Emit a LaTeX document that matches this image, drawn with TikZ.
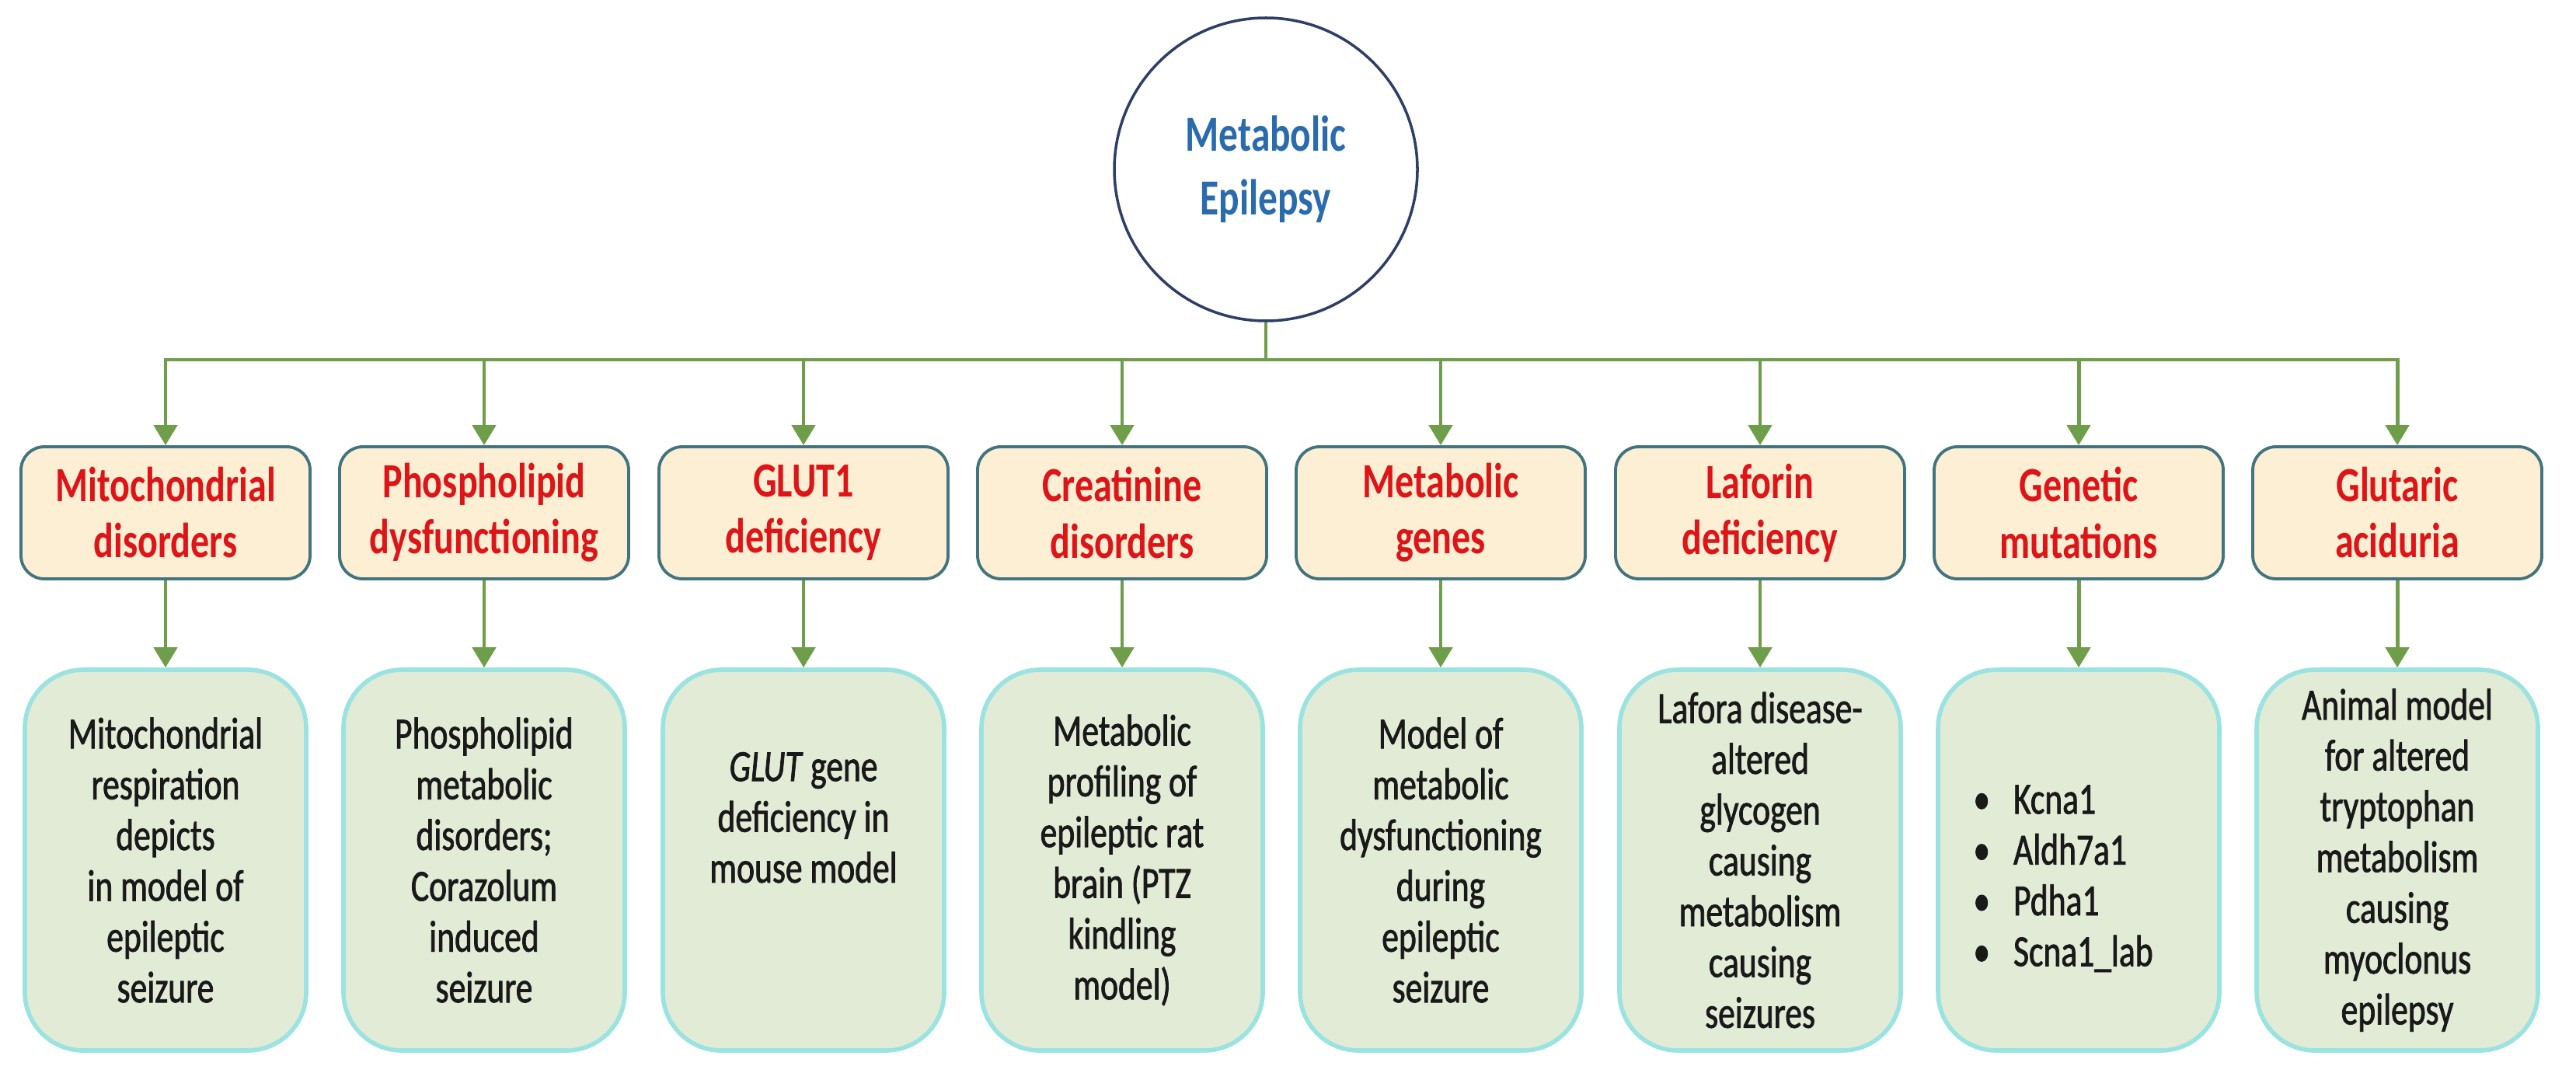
\documentclass[tikz,border=0pt]{standalone}
\usepackage{fontspec}
\setmainfont{Carlito}[FakeStretch=0.76]
\newfontfamily\leaffont{Carlito}[FakeStretch=0.76, FakeBold=1.3]
\usetikzlibrary{arrows.meta}

\definecolor{rootblue}{HTML}{2A6BAE}
\definecolor{rootline}{HTML}{2F3E66}
\definecolor{headred}{HTML}{DD1518}
\definecolor{headfill}{HTML}{FCEFD4}
\definecolor{headline}{HTML}{427480}
\definecolor{leaffill}{HTML}{E2EBD6}
\definecolor{leafline}{HTML}{9BE3E1}
\definecolor{linkgreen}{HTML}{6E9E4A}

\tikzset{
    rootnode/.style={circle, draw=rootline, fill=white, line width=1pt, minimum size=3.9cm,
        align=center, text=rootblue, font=\fontsize{18.5pt}{23.3pt}\selectfont\bfseries},
    headbox/.style={draw=headline, fill=headfill, line width=1.1pt, rounded corners=0.3cm,
        minimum width=3.72cm, minimum height=1.7cm, align=center, text=headred,
        font=\fontsize{18pt}{20.5pt}\selectfont\bfseries},
    leafbox/.style={draw=leafline, fill=leaffill, line width=1.6pt, rounded corners=0.75cm,
        minimum width=3.62cm, minimum height=4.9cm, align=center, text=black!90,
        font=\fontsize{16.3pt}{18.6pt}\leaffont\selectfont},
    link/.style={draw=linkgreen, line width=1.4pt},
    arrowlink/.style={link, -{Triangle[length=0.26cm,width=0.3cm]}}
}

\begin{document}
\begin{tikzpicture}
    \useasboundingbox (0,0) rectangle (33.15,-13.8);

    \node[rootnode] (root) at (16.29,-2.18) {Metabolic\\Epilepsy};

    % first row
    \node[headbox] (head1) at (2.13,-6.6) {Mitochondrial\\disorders};
    \node[headbox] (head2) at (6.23,-6.6) {Phospholipid\\dysfunctioning};
    \node[headbox] (head3) at (10.34,-6.6) {GLUT1\\deficiency};
    \node[headbox] (head4) at (14.44,-6.6) {Creatinine\\disorders};
    \node[headbox] (head5) at (18.54,-6.6) {Metabolic\\genes};
    \node[headbox] (head6) at (22.65,-6.6) {Laforin\\deficiency};
    \node[headbox] (head7) at (26.75,-6.6) {Genetic\\mutations};
    \node[headbox] (head8) at (30.85,-6.6) {Glutaric\\aciduria};

    % second row
    \node[leafbox] (leaf1) at (2.13,-11.07) {Mitochondrial\\respiration\\depicts\\in model of\\epileptic\\seizure};
    \node[leafbox] (leaf2) at (6.23,-11.07) {Phospholipid\\metabolic\\disorders;\\Corazolum\\induced\\seizure};
    \node[leafbox, text depth=1.1cm] (leaf3) at (10.34,-11.07) {\textit{GLUT} gene\\deficiency in\\mouse model};
    \node[leafbox] (leaf4) at (14.44,-11.07) {Metabolic\\profiling of\\epileptic rat\\brain (PTZ\\kindling\\model)};
    \node[leafbox] (leaf5) at (18.54,-11.07) {Model of\\metabolic\\dysfunctioning\\during\\epileptic\\seizure};
    \node[leafbox] (leaf6) at (22.65,-11.07) {Lafora disease-\\altered\\glycogen\\causing\\metabolism\\causing\\seizures};
    \node[leafbox, text depth=0.65cm] (leaf7) at (26.75,-11.07) {\begin{tabular}{@{}l@{\hspace{0.3cm}}l@{}}
        \textbullet & Kcna1\\ \textbullet & Aldh7a1\\ \textbullet & Pdha1\\ \textbullet & Scna1\_lab
        \end{tabular}\hspace{0.4cm}};
    \node[leafbox] (leaf8) at (30.85,-11.07) {Animal model\\for altered\\tryptophan\\metabolism\\causing\\myoclonus\\epilepsy};

    % connectors
    \coordinate (barL) at (2.13,-4.63);
    \coordinate (barR) at (30.85,-4.63);
    \draw[link] (root.south) -- (root |- barL);
    \draw[link, line cap=rect] (barL) -- (barR);
    \foreach \i in {1,...,8} {
        \draw[arrowlink] (head\i |- barL) -- (head\i.north);
        \draw[arrowlink] (head\i.south) -- (leaf\i.north);
    }
\end{tikzpicture}
\end{document}
